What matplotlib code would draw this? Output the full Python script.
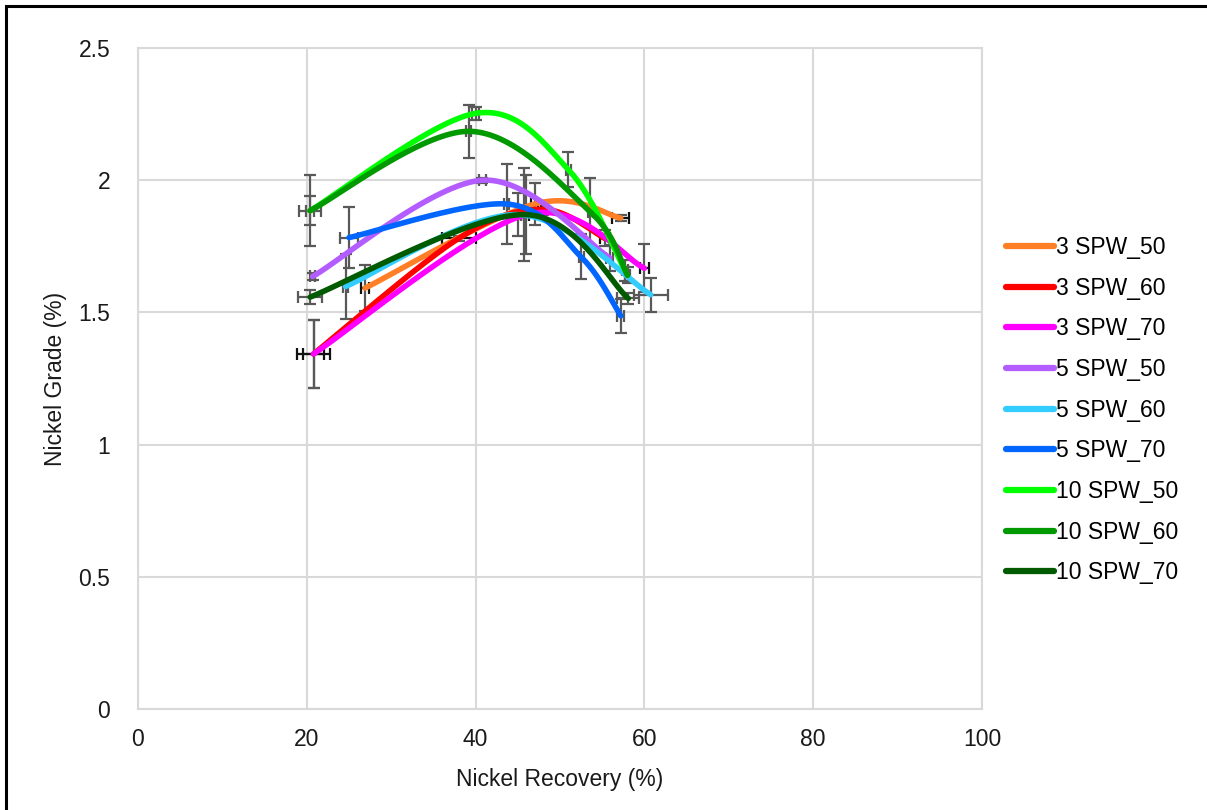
import numpy as np
import matplotlib
matplotlib.use("Agg")
import matplotlib.pyplot as plt
from matplotlib.patches import Rectangle

plt.rcParams['font.family'] = ['Liberation Sans', 'DejaVu Sans']

# Recovery (%), grade (%) and their error bars for each flotation condition
labels = ["3 SPW_50", "3 SPW_60", "3 SPW_70",
          "5 SPW_50", "5 SPW_60", "5 SPW_70",
          "10 SPW_50", "10 SPW_60", "10 SPW_70"]
colors = ["#FF7F27", "#FF0000", "#FF00FF",
          "#B35CFF", "#33CCFF", "#0066FF",
          "#00FF00", "#009900", "#005A00"]

rec_3_50 = [26.9, 47.0, 57.2]
grd_3_50 = [1.592, 1.91, 1.857]
rerr_3_50 = [0.5, 0.4, 1.0]
gerr_3_50 = [0.086, 0.08, 0.01]

rec_3_60 = [20.8, 38.0, 48.0, 55.3]
grd_3_60 = [1.343, 1.78, 1.89, 1.78]
rerr_3_60 = [1.95, 2.0, 0.3, 0.6]
gerr_3_60 = [0.129, 0.01, 0.02, 0.03]

rec_3_70 = [20.8, 46.0, 60.0]
grd_3_70 = [1.343, 1.87, 1.667]
rerr_3_70 = [1.2, 0.3, 0.5]
gerr_3_70 = [0.129, 0.15, 0.09]

rec_5_50 = [20.7, 40.8, 55.9]
grd_5_50 = [1.636, 2.0, 1.706]
rerr_5_50 = [0.3, 0.4, 0.4]
gerr_5_50 = [0.012, 0.01, 0.05]

rec_5_60 = [24.6, 45.0, 60.75]
grd_5_60 = [1.598, 1.87, 1.567]
rerr_5_60 = [0.3, 0.4, 2.0]
gerr_5_60 = [0.124, 0.08, 0.065]

rec_5_70 = [25.0, 43.7, 52.5, 57.2]
grd_5_70 = [1.783, 1.91, 1.71, 1.487]
rerr_5_70 = [1.1, 0.3, 0.3, 0.4]
gerr_5_70 = [0.115, 0.15, 0.085, 0.065]

rec_10_50 = [20.4, 40.0, 51.0, 57.7]
grd_10_50 = [1.885, 2.253, 2.04, 1.659]
rerr_10_50 = [0.5, 0.4, 0.3, 0.3]
gerr_10_50 = [0.055, 0.025, 0.065, 0.04]

rec_10_60 = [20.4, 39.2, 53.6, 58.0]
grd_10_60 = [1.885, 2.185, 1.88, 1.64]
rerr_10_60 = [1.3, 0.3, 0.3, 0.3]
gerr_10_60 = [0.135, 0.1, 0.13, 0.03]

rec_10_70 = [20.4, 45.7, 58.1]
grd_10_70 = [1.558, 1.87, 1.553]
rerr_10_70 = [1.4, 0.3, 1.3]
gerr_10_70 = [0.028, 0.176, 0.02]

series = [
    (rec_3_50, grd_3_50, rerr_3_50, gerr_3_50),
    (rec_3_60, grd_3_60, rerr_3_60, gerr_3_60),
    (rec_3_70, grd_3_70, rerr_3_70, gerr_3_70),
    (rec_5_50, grd_5_50, rerr_5_50, gerr_5_50),
    (rec_5_60, grd_5_60, rerr_5_60, gerr_5_60),
    (rec_5_70, grd_5_70, rerr_5_70, gerr_5_70),
    (rec_10_50, grd_10_50, rerr_10_50, gerr_10_50),
    (rec_10_60, grd_10_60, rerr_10_60, gerr_10_60),
    (rec_10_70, grd_10_70, rerr_10_70, gerr_10_70),
]
x_ticks = [0, 20, 40, 60, 80, 100]
y_ticks = [0, 0.5, 1, 1.5, 2, 2.5]
y_tick_labels = ["0", "0.5", "1", "1.5", "2", "2.5"]


def smooth_curve(xs, ys, n=60):
    """Cubic Bezier smoothing through every point (spreadsheet-style)."""
    p = np.column_stack([xs, ys]).astype(float)
    ext = np.vstack([p[0], p, p[-1]])
    t = np.linspace(0, 1, n)[:, None]
    out = []
    for i in range(len(p) - 1):
        p0, p1 = ext[i + 1], ext[i + 2]
        c1 = p0 + (ext[i + 2] - ext[i]) / 6.0
        c2 = p1 - (ext[i + 3] - ext[i + 1]) / 6.0
        seg = ((1 - t) ** 3) * p0 + 3 * ((1 - t) ** 2) * t * c1 \
            + 3 * (1 - t) * t ** 2 * c2 + t ** 3 * p1
        out.append(seg if i == 0 else seg[1:])
    seg = np.vstack(out)
    return seg[:, 0], seg[:, 1]


fig = plt.figure(figsize=(12.07, 8.10), dpi=100)
ax = fig.add_axes([0.1143, 0.1247, 0.6993, 0.816])

for (rx, gy, rerr, gerr), col, lab in zip(series, colors, labels):
    ecol = "#111111" if lab.startswith("3 ") else "#595959"
    ax.errorbar(rx, gy, yerr=gerr, fmt="none", ecolor="#595959",
                elinewidth=1.6, capsize=4, capthick=1.6, zorder=2)
    ax.errorbar(rx, gy, xerr=rerr, fmt="none", ecolor=ecol,
                elinewidth=1.6, capsize=4, capthick=1.6, zorder=2)

for (rx, gy, rerr, gerr), col, lab in zip(series, colors, labels):
    sx, sy = smooth_curve(rx, gy)
    ax.plot(sx, sy, color=col, lw=4.0, solid_capstyle="round",
            label=lab, zorder=3)

ax.set_xlim(0, 100)
ax.set_ylim(0, 2.5)
ax.set_xticks(x_ticks)
ax.set_yticks(y_ticks)
ax.set_yticklabels(y_tick_labels)
ax.tick_params(length=0, labelsize=16.5, colors="#1a1a1a", pad=14)
ax.tick_params(axis="y", pad=20)
ax.grid(True, color="#D9D9D9", lw=1.5)
ax.set_axisbelow(True)
for sp in ax.spines.values():
    sp.set_color("#D9D9D9")
    sp.set_linewidth(1.5)

ax.set_xlabel("Nickel Recovery (%)", fontsize=16.5, color="#1a1a1a", labelpad=12)
ax.set_ylabel("Nickel Grade (%)", fontsize=16.5, color="#1a1a1a", labelpad=8)

leg = ax.legend(loc="center left", bbox_to_anchor=(1.028, 0.452), frameon=False,
                fontsize=16.5, handlelength=2.1, handletextpad=0.1,
                labelspacing=0.77, borderaxespad=0, borderpad=0)
for h in leg.get_lines():
    h.set_linewidth(4.5)

# outer chart frame
fig.patches.append(Rectangle((6 / 1207, -0.05), 1.2, 1 - 6 / 810 + 0.05,
                             transform=fig.transFigure, fill=False,
                             edgecolor="black", lw=2.2))

fig.savefig("out.png", dpi=100)
